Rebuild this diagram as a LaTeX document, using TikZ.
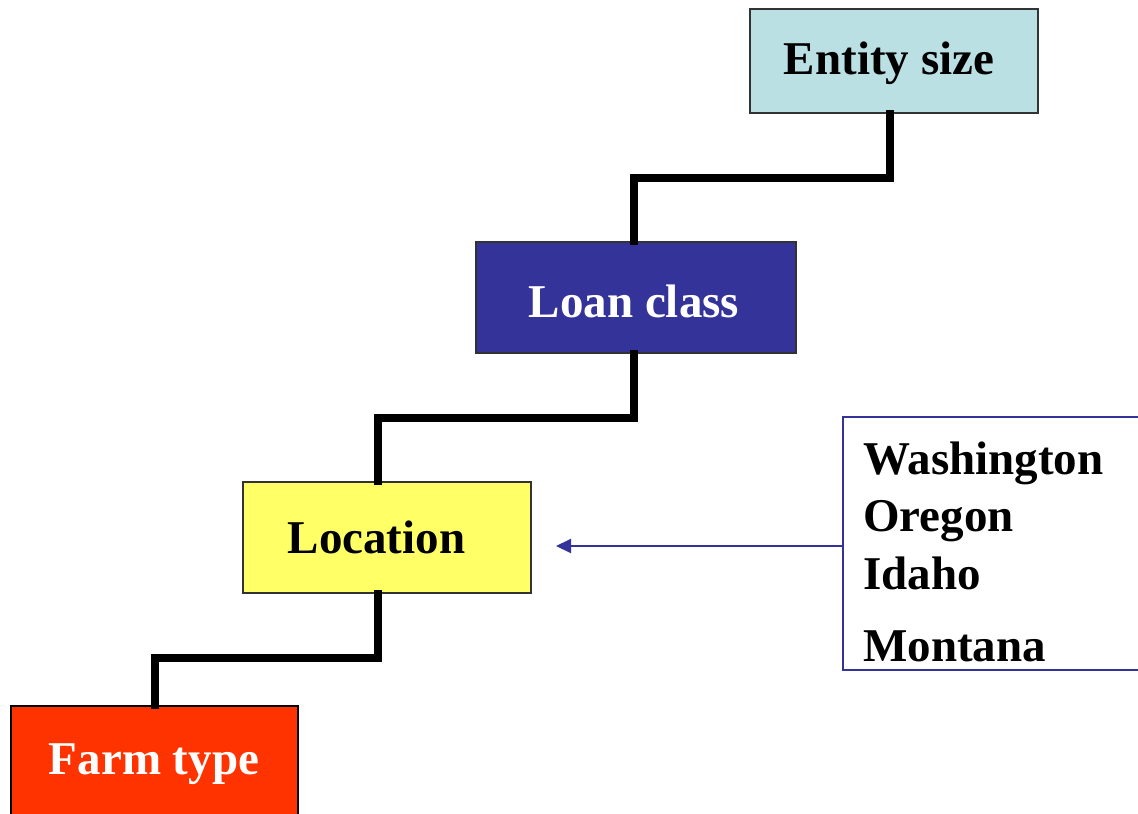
\documentclass[tikz,border=0pt]{standalone}
\usepackage{fontspec}
\setmainfont{Liberation Serif}
\usetikzlibrary{arrows.meta}
\definecolor{entityfill}{HTML}{BBE0E3}
\definecolor{loanfill}{HTML}{333399}
\definecolor{locfill}{HTML}{FFFF66}
\definecolor{farmfill}{HTML}{FF3300}
\definecolor{bracketcol}{HTML}{333399}
\tikzset{
  level/.style={draw=black!80, line width=1.4pt, inner sep=0pt},
  leveltext/.style={anchor=base, inner sep=0pt,
    font=\fontsize{47}{56}\selectfont\bfseries},
  stair/.style={line width=8pt, line cap=rect, line join=miter},
  bracket/.style={draw=bracketcol, line width=2pt},
  statetext/.style={anchor=base west, inner sep=0pt,
    font=\fontsize{47}{56}\selectfont\bfseries},
}
\begin{document}
\begin{tikzpicture}[x=1pt, y=-1pt]
\useasboundingbox (0,0) rectangle (1138,814);

% levels of the hierarchy
\node[level, fill=entityfill, minimum width=288pt, minimum height=104pt] (entity) at (894,61) {};
\node[level, fill=loanfill, minimum width=320pt, minimum height=111pt] (loan) at (636,297.5) {};
\node[level, fill=locfill, minimum width=288pt, minimum height=111pt] (loc) at (387,537.5) {};
\node[level, fill=farmfill, draw=black, line width=2.5pt, minimum width=287pt, minimum height=116pt] (farm) at (154.5,764) {};

% level captions
\node[leveltext] (entitytxt) at (889,74.5) {Entity size};
\node[leveltext, text=white] (loantxt) at (634,317) {Loan class};
\node[leveltext] (loctxt) at (376.5,553) {Location};
\node[leveltext, text=white] (farmtxt) at (154,774.5) {Farm type};

% stair connectors
\coordinate (s1) at (378,658);
\coordinate (s2) at (634,418);
\coordinate (s3) at (890,178);
\draw[stair] (farm.north) |- (s1) -- (s1 |- loc.south);
\draw[stair] (loc.north -| s1) |- (s2) -- (s2 |- loan.south);
\draw[stair] (loan.north -| s2) |- (s3) -- (s3 |- entity.south);

% bracket with the list of states
\draw[bracket] (1140,417) -- (843,417) -- (843,670) -- (1140,670);
\node[statetext] (wa) at (863,474) {Washington};
\node[statetext] (or) at (863,531) {Oregon};
\node[statetext] (id) at (863,589) {Idaho};
\node[statetext] (mt) at (863,661) {Montana};

% arrow pointing at the location level
\coordinate (br) at (843,546);
\coordinate (tip) at (556,546);
\draw[bracketcol, line width=2pt, -{Triangle[length=15pt,width=14pt]}] (br) -- (tip);
\end{tikzpicture}
\end{document}
